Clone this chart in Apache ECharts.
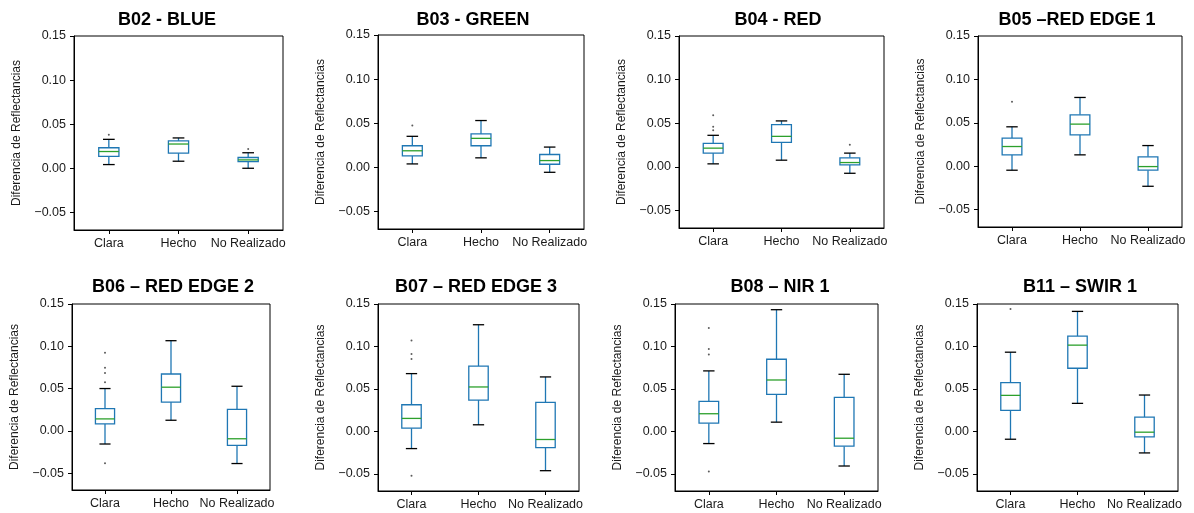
<!DOCTYPE html>
<html><head><meta charset="utf-8">
<script src="https://cdn.jsdelivr.net/npm/echarts@6/dist/echarts.min.js"></script>
<style>html,body{margin:0;padding:0;background:#fff}#c{width:1194px;height:513px}</style>
</head><body><div id="c"></div>
<script>
const categories = ['Clara', 'Hecho', 'No Realizado'];
const titles = ['B02 - BLUE', 'B03 - GREEN', 'B04 - RED', 'B05 \u2013RED EDGE 1',
  'B06 \u2013 RED EDGE 2', 'B07 \u2013 RED EDGE 3', 'B08 \u2013 NIR 1', 'B11 \u2013 SWIR 1'];
const yName = 'Diferencia de Reflectancias';
const yTicks = [-0.05, 0, 0.05, 0.10, 0.15];
const yMin = -0.07, yMax = 0.15;

// per category: [low whisker, Q1, median, Q3, high whisker]
const b02Box = [[0.0042, 0.0134, 0.0190, 0.0233, 0.0328], [0.0080, 0.0172, 0.0275, 0.0310, 0.0344], [0.0000, 0.0076, 0.0095, 0.0122, 0.0176]];
const b03Box = [[0.0038, 0.0130, 0.0187, 0.0244, 0.0351], [0.0107, 0.0244, 0.0328, 0.0378, 0.0530], [-0.0057, 0.0034, 0.0076, 0.0145, 0.0229]];
const b04Box = [[0.0035, 0.0158, 0.0215, 0.0269, 0.0362], [0.0077, 0.0281, 0.0350, 0.0485, 0.0527], [-0.0073, 0.0023, 0.0050, 0.0104, 0.0158]];
const b05Box = [[-0.0046, 0.0131, 0.0227, 0.0323, 0.0454], [0.0131, 0.0362, 0.0485, 0.0592, 0.0792], [-0.0231, -0.0046, -0.0004, 0.0108, 0.0238]];
const b06Box = [[-0.0156, 0.0082, 0.0141, 0.0262, 0.0500], [0.0125, 0.0340, 0.0516, 0.0672, 0.1066], [-0.0387, -0.0172, -0.0094, 0.0254, 0.0527]];
const b07Box = [[-0.0201, 0.0039, 0.0154, 0.0315, 0.0681], [0.0079, 0.0370, 0.0524, 0.0768, 0.1256], [-0.0461, -0.0189, -0.0094, 0.0343, 0.0642]];
const b08Box = [[-0.0142, 0.0098, 0.0209, 0.0354, 0.0713], [0.0110, 0.0437, 0.0606, 0.0850, 0.1433], [-0.0406, -0.0173, -0.0079, 0.0402, 0.0673]];
const b11Box = [[-0.0091, 0.0248, 0.0425, 0.0575, 0.0933], [0.0331, 0.0744, 0.1016, 0.1122, 0.1413], [-0.0252, -0.0063, -0.0008, 0.0169, 0.0429]];

// outliers: [category index, value]
const b02Out = [[0, 0.0380], [2, 0.0218]];
const b03Out = [[0, 0.0473]];
const b04Out = [[0, 0.0592], [0, 0.0460], [0, 0.0420], [2, 0.0254]];
const b05Out = [[0, 0.0742]];
const b06Out = [[0, 0.0922], [0, 0.0746], [0, 0.0684], [0, 0.0574], [0, -0.0383]];
const b07Out = [[0, 0.1070], [0, 0.0913], [0, 0.0854], [0, -0.0520]];
const b08Out = [[0, 0.1217], [0, 0.0972], [0, 0.0906], [0, -0.0472]];
const b11Out = [[0, 0.1441]];

const boxes = [b02Box, b03Box, b04Box, b05Box, b06Box, b07Box, b08Box, b11Box];
const outs = [b02Out, b03Out, b04Out, b05Out, b06Out, b07Out, b08Out, b11Out];

// layout (pixels)
const grids = [
  [74, 36, 209, 194], [378, 35, 206, 194], [679, 36, 205, 192], [978, 36, 204, 191],
  [72, 304, 198, 186], [378, 304, 201, 187], [675, 304, 203, 187], [977, 304, 201, 187]
];
const titlePos = [[167, 20], [473, 20], [778, 20], [1077, 20], [173, 287], [476, 287], [780, 287], [1080, 287]];

const FONT = '"Liberation Sans", Arial, sans-serif';
const BLUE = '#1f77b4', GREEN = '#2ca02c';

function renderBox(params, api) {
  const c = api.value(0);
  const lo = api.coord([c, api.value(1)]);
  const q1 = api.coord([c, api.value(2)]);
  const md = api.coord([c, api.value(3)]);
  const q3 = api.coord([c, api.value(4)]);
  const hi = api.coord([c, api.value(5)]);
  const band = api.size([1, 0])[0];
  const bw = band * 0.29, cw = bw * 0.58;
  const x = lo[0];
  const lw = 1.3;
  return {
    type: 'group', children: [
      { type: 'line', shape: { x1: x, y1: hi[1], x2: x, y2: q3[1] }, style: { stroke: BLUE, lineWidth: lw } },
      { type: 'line', shape: { x1: x, y1: q1[1], x2: x, y2: lo[1] }, style: { stroke: BLUE, lineWidth: lw } },
      { type: 'line', shape: { x1: x - cw / 2, y1: hi[1], x2: x + cw / 2, y2: hi[1] }, style: { stroke: '#000', lineWidth: lw } },
      { type: 'line', shape: { x1: x - cw / 2, y1: lo[1], x2: x + cw / 2, y2: lo[1] }, style: { stroke: '#000', lineWidth: lw } },
      { type: 'rect', shape: { x: x - bw / 2, y: q3[1], width: bw, height: q1[1] - q3[1] }, style: { fill: '#fff', stroke: BLUE, lineWidth: lw } },
      { type: 'line', shape: { x1: x - bw / 2, y1: md[1], x2: x + bw / 2, y2: md[1] }, style: { stroke: GREEN, lineWidth: lw } }
    ]
  };
}

const fmt = v => v.toFixed(2).replace('-', '\u2212');

const option = {
  animation: false,
  backgroundColor: '#fff',
  grid: [], xAxis: [], yAxis: [], series: [], graphic: []
};

grids.forEach((g, i) => {
  option.grid.push({ left: g[0], top: g[1], width: g[2], height: g[3], show: true, borderColor: '#000', borderWidth: 1, backgroundColor: 'transparent', containLabel: false });
  option.xAxis.push({
    type: 'category', gridIndex: i, data: categories, boundaryGap: true,
    axisLine: { show: true, onZero: false, lineStyle: { color: '#000', width: 1 } },
    axisTick: { show: true, alignWithLabel: true, interval: 0, length: 4, lineStyle: { color: '#000' } },
    axisLabel: { color: '#1a1a1a', fontSize: 12.5, fontFamily: FONT, margin: 7, interval: 0, hideOverlap: false },
    splitLine: { show: false }
  });
  option.yAxis.push({
    type: 'value', gridIndex: i, min: yMin, max: yMax,
    name: yName, nameLocation: 'middle', nameGap: 51, nameRotate: 90,
    nameTextStyle: { color: '#1a1a1a', fontSize: 12, fontFamily: FONT },
    axisLine: { show: true, onZero: false, lineStyle: { color: '#000', width: 1 } },
    axisTick: { show: true, length: 4, customValues: yTicks, lineStyle: { color: '#000' } },
    axisLabel: { color: '#1a1a1a', fontSize: 12.5, fontFamily: FONT, margin: 8, customValues: yTicks, formatter: fmt },
    splitLine: { show: false }
  });
  option.series.push({
    type: 'custom', xAxisIndex: i, yAxisIndex: i, renderItem: renderBox,
    encode: { x: 0, y: [1, 2, 3, 4, 5] },
    data: boxes[i].map((b, k) => [k].concat(b)), z: 2
  });
  option.series.push({
    type: 'scatter', xAxisIndex: i, yAxisIndex: i, symbol: 'circle', symbolSize: 2,
    itemStyle: { color: '#333' }, data: outs[i], z: 3
  });
  option.graphic.push({
    type: 'text', x: titlePos[i][0], y: titlePos[i][1],
    style: { text: titles[i], fill: '#000', font: 'bold 18px ' + FONT, textAlign: 'center', textVerticalAlign: 'middle' }
  });
});

const chart = echarts.init(document.getElementById('c'), null, { renderer: 'canvas' });
chart.setOption(option);
</script>
</body></html>
